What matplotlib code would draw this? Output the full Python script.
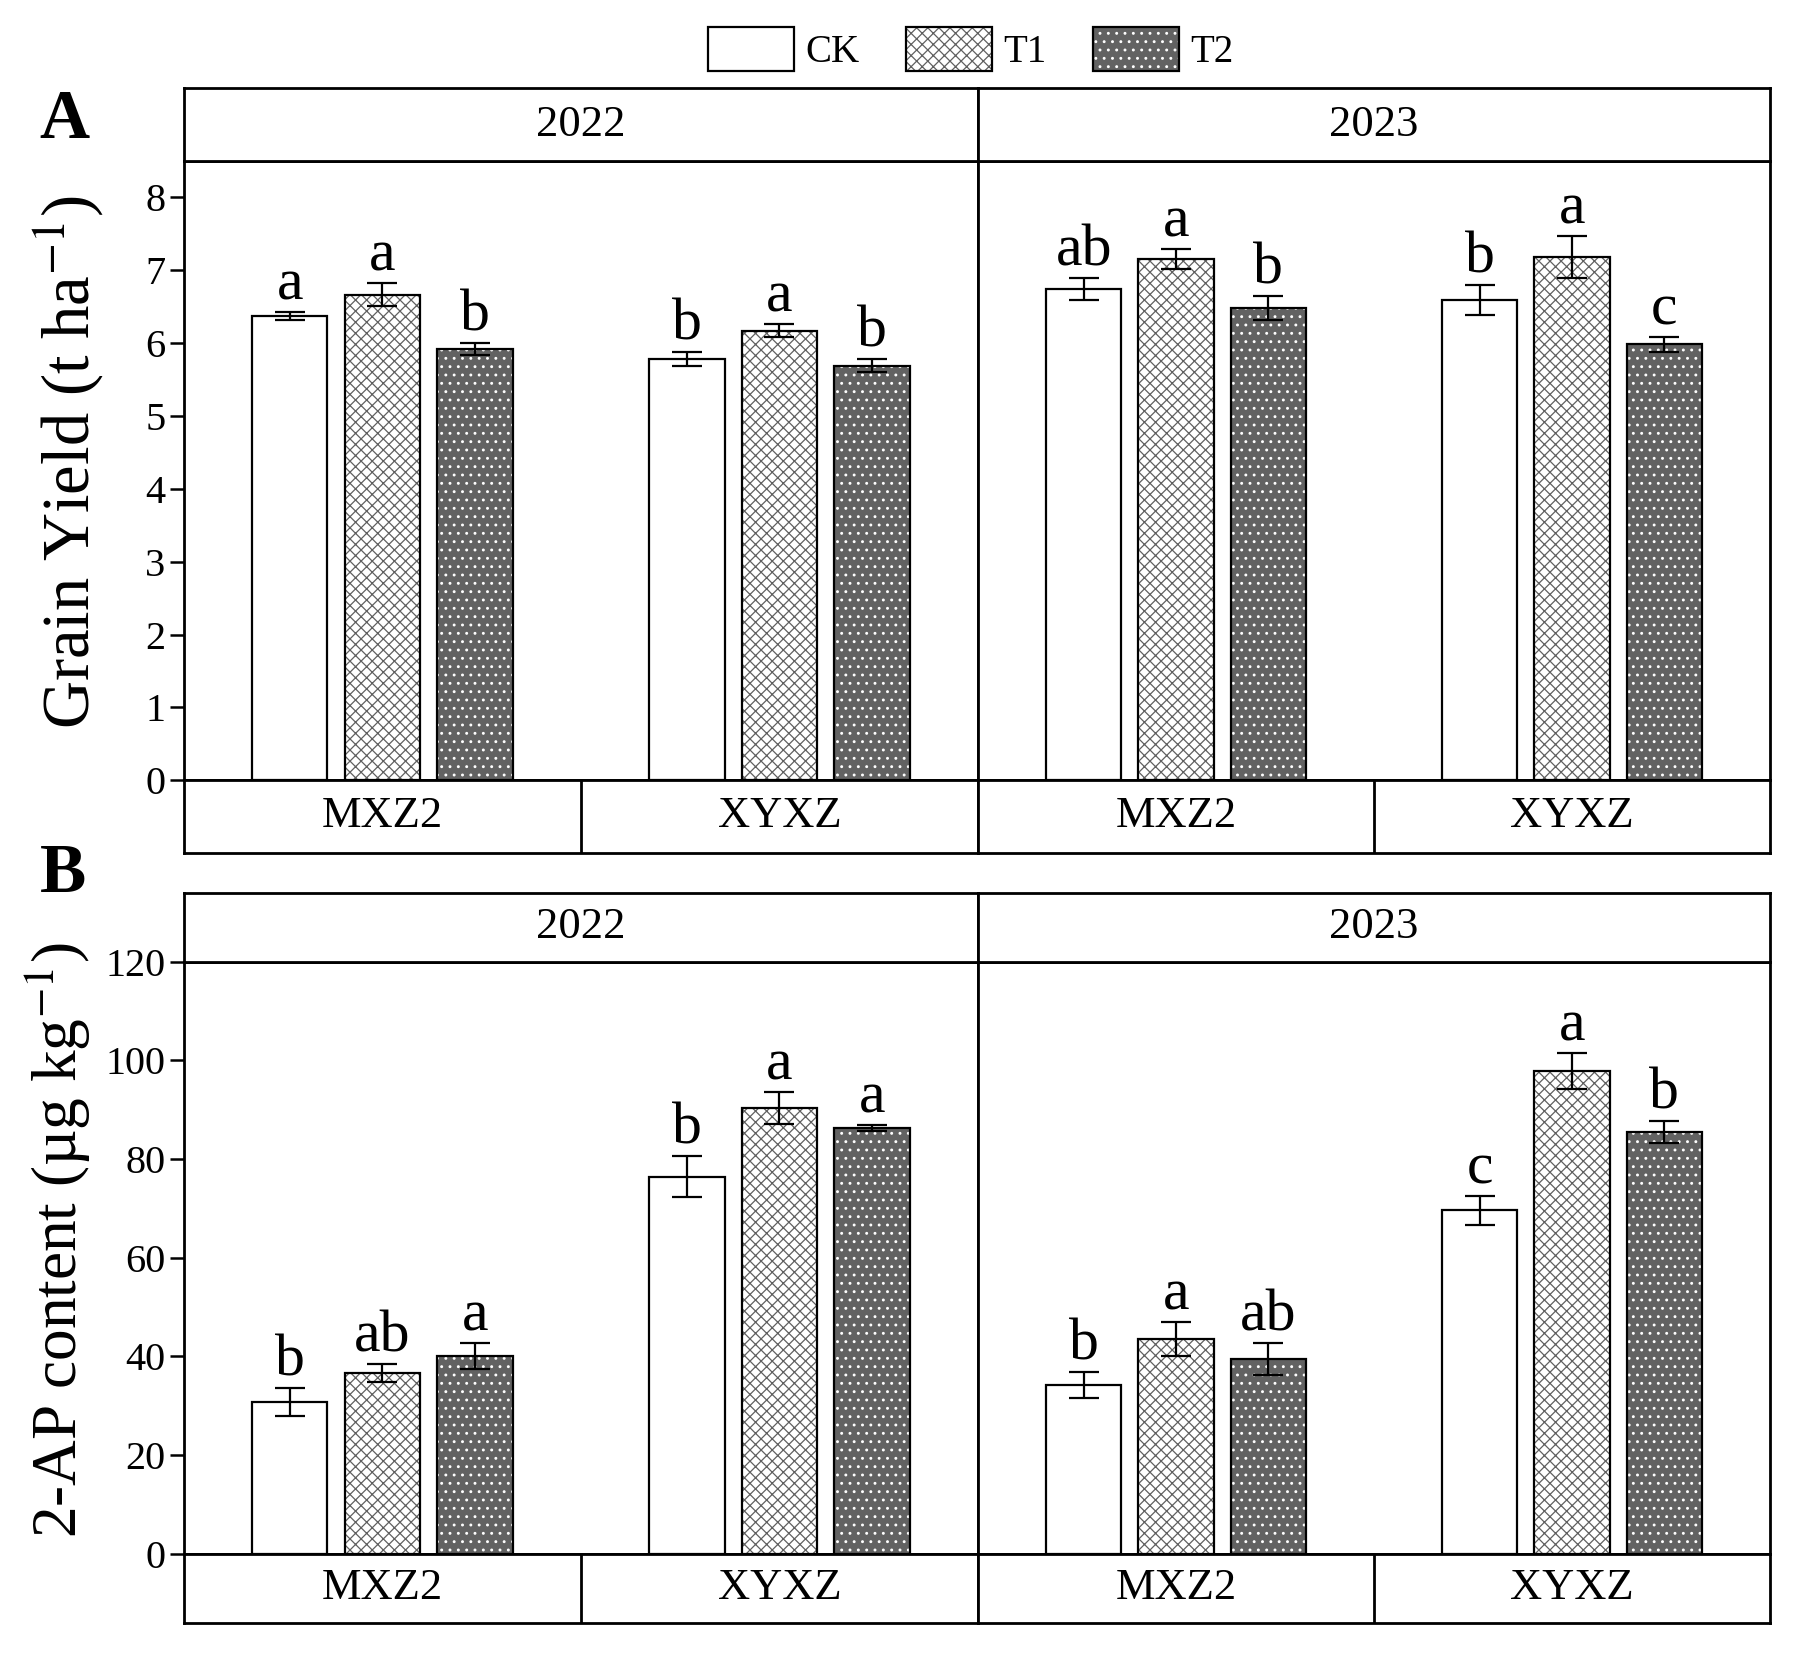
import matplotlib
matplotlib.use("Agg")
import matplotlib.pyplot as plt
from matplotlib.legend_handler import HandlerTuple
import numpy as np

plt.rcParams["font.family"] = ["Liberation Serif", "DejaVu Serif"]
plt.rcParams["mathtext.fontset"] = "stix"
plt.rcParams["hatch.linewidth"] = 0.9

# ---------------- data ----------------
years = ["2022", "2023"]
cultivars = ["MXZ2", "XYXZ"]
treatments = ["CK", "T1", "T2"]

# Grain yield (t ha-1), rows = cultivar (MXZ2, XYXZ), cols = treatment (CK, T1, T2)
yield_2022 = [[6.37, 6.66, 5.92], [5.78, 6.17, 5.69]]
yield_2022_se = [[0.06, 0.16, 0.08], [0.10, 0.09, 0.09]]
yield_2023 = [[6.74, 7.15, 6.48], [6.59, 7.18, 5.98]]
yield_2023_se = [[0.15, 0.14, 0.17], [0.21, 0.29, 0.10]]
yield_2022_sig = [["a", "a", "b"], ["b", "a", "b"]]
yield_2023_sig = [["ab", "a", "b"], ["b", "a", "c"]]

# 2-AP content (ug kg-1)
ap_2022 = [[30.7, 36.6, 40.1], [76.4, 90.3, 86.3]]
ap_2022_se = [[2.8, 1.8, 2.7], [4.1, 3.2, 0.6]]
ap_2023 = [[34.2, 43.5, 39.5], [69.6, 97.8, 85.5]]
ap_2023_se = [[2.6, 3.4, 3.3], [2.9, 3.7, 2.2]]
ap_2022_sig = [["b", "ab", "a"], ["b", "a", "a"]]
ap_2023_sig = [["b", "a", "ab"], ["c", "a", "b"]]

# ---------------- styles ----------------
W, H = 1800, 1657
fig = plt.figure(figsize=(W / 100, H / 100), dpi=100)

def fx(x):
    return x / W

def fy(y):
    return 1 - y / H

styles = [
    dict(face="white", hatch=None, hcol="black"),
    dict(face="white", hatch="xxx", hcol="#606060"),
    dict(face="#626262", hatch="..", hcol="white"),
]
offsets = [-0.233, 0.0, 0.233]
bar_w = 0.19
SP_LW = 2.0
TICK_FS = 29
STRIP_FS = 32
SIG_FS = 43

Lx, Mx, Rx = 183.7, 978.0, 1770.0
panels = [
    dict(st_top=88.4, pl_top=160.7, pl_bot=780.3, sb_bot=852.6,
         data=[(yield_2022, yield_2022_se, yield_2022_sig),
               (yield_2023, yield_2023_se, yield_2023_sig)],
         ylim=(0, 8.5), yticks=np.arange(0, 9, 1)),
    dict(st_top=892.8, pl_top=961.6, pl_bot=1553.7, sb_bot=1622.6,
         data=[(ap_2022, ap_2022_se, ap_2022_sig),
               (ap_2023, ap_2023_se, ap_2023_sig)],
         ylim=(0, 120), yticks=np.arange(0, 121, 20)),
]

legend_handles = None

def style_box(a):
    a.set_xticks([])
    a.set_yticks([])
    for s in a.spines.values():
        s.set_linewidth(SP_LW)

for p in panels:
    for yi, (x0, x1) in enumerate([(Lx, Mx), (Mx, Rx)]):
        w = (x1 - x0) / W
        ax = fig.add_axes([fx(x0), fy(p["pl_bot"]), w, (p["pl_bot"] - p["pl_top"]) / H])
        vals, ses, sigs = p["data"][yi]
        vals = np.array(vals)
        ses = np.array(ses)
        xpos = np.arange(len(cultivars))
        handles = []
        for ti, st in enumerate(styles):
            xs = xpos + offsets[ti]
            b1 = ax.bar(xs, vals[:, ti], width=bar_w, color=st["face"],
                        edgecolor=st["hcol"], hatch=st["hatch"], linewidth=0, zorder=2)
            b2 = ax.bar(xs, vals[:, ti], width=bar_w, fill=False,
                        edgecolor="black", linewidth=1.6, zorder=3)
            ax.errorbar(xs, vals[:, ti], yerr=ses[:, ti], fmt="none", ecolor="black",
                        elinewidth=1.6, capsize=11, capthick=1.6, zorder=4)
            for ci in range(len(cultivars)):
                ax.annotate(sigs[ci][ti], (xs[ci], vals[ci, ti] + ses[ci, ti]),
                            xytext=(0, 9), textcoords="offset points",
                            ha="center", va="baseline", fontsize=SIG_FS, zorder=5)
            handles.append((b1[0], b2[0]))
        if legend_handles is None:
            legend_handles = handles
        ax.set_xlim(-0.5, 1.5)
        ax.set_ylim(*p["ylim"])
        ax.set_xticks([])
        for s in ax.spines.values():
            s.set_linewidth(SP_LW)
        if yi == 0:
            ax.set_yticks(p["yticks"])
            ax.tick_params(axis="y", direction="out", length=10, width=1.8,
                           labelsize=TICK_FS, pad=3)
        else:
            ax.set_yticks([])

        # top strip (year)
        ts = fig.add_axes([fx(x0), fy(p["pl_top"]), w, (p["pl_top"] - p["st_top"]) / H])
        style_box(ts)
        ts.text(0.5, 0.5, years[yi], ha="center", va="center", fontsize=STRIP_FS,
                transform=ts.transAxes)

        # bottom strip (cultivar)
        bs = fig.add_axes([fx(x0), fy(p["sb_bot"]), w, (p["sb_bot"] - p["pl_bot"]) / H])
        style_box(bs)
        bs.set_xlim(-0.5, 1.5)
        bs.set_ylim(0, 1)
        bs.axvline(0.5, color="black", linewidth=SP_LW)
        for ci, c in enumerate(cultivars):
            bs.text(ci, 0.5, c, ha="center", va="center", fontsize=STRIP_FS)

# axis labels
fig.text(fx(69), fy(462), r"Grain Yield (t ha$^{-1}$)", rotation=90,
         ha="center", va="center", fontsize=48)
fig.text(fx(58), fy(1240), r"2-AP content (µg kg$^{-1}$)", rotation=90,
         ha="center", va="center", fontsize=45.5)

# panel letters
fig.text(fx(64), fy(121), "A", ha="center", va="center", fontsize=50, fontweight="bold")
fig.text(fx(63), fy(875), "B", ha="center", va="center", fontsize=50, fontweight="bold")

# legend
fig.legend(legend_handles, treatments, loc="center", bbox_to_anchor=(fx(971), fy(49)),
           ncol=3, frameon=False, fontsize=28, handlelength=2.2, handleheight=1.4,
           handletextpad=0.3, columnspacing=1.2,
           handler_map={tuple: HandlerTuple(ndivide=1)})

fig.savefig("out.png", dpi=100)
